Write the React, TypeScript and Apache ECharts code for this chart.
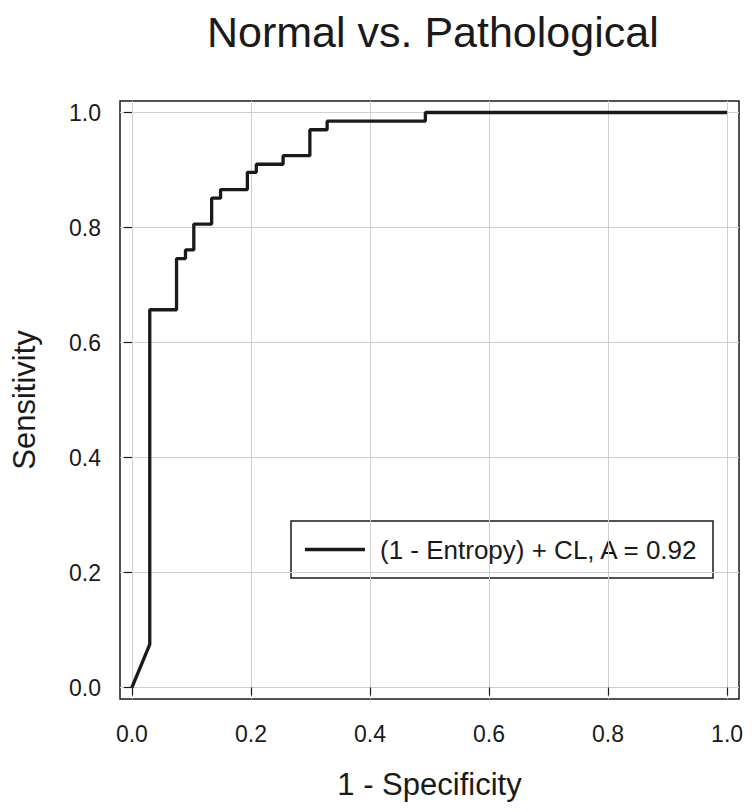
import React, { useEffect, useRef } from "react";
import * as echarts from "echarts";

const titleText = "Normal vs. Pathological";
const xAxisTitle = "1 - Specificity";
const yAxisTitle = "Sensitivity";
const seriesName = "(1 - Entropy) + CL, A = 0.92";
const tickValues = [0, 0.2, 0.4, 0.6, 0.8, 1.0];

// ROC curve vertices (1 - specificity, sensitivity)
const fpr = [0, 0.030, 0.030, 0.075, 0.075, 0.090, 0.090, 0.104, 0.104, 0.134, 0.134, 0.149, 0.149, 0.194, 0.194, 0.209, 0.209, 0.254, 0.254, 0.299, 0.299, 0.328, 0.328, 0.493, 0.493, 1.0];
const tpr = [0, 0.075, 0.657, 0.657, 0.746, 0.746, 0.761, 0.761, 0.806, 0.806, 0.851, 0.851, 0.866, 0.866, 0.896, 0.896, 0.910, 0.910, 0.925, 0.925, 0.970, 0.970, 0.985, 0.985, 1.0, 1.0];

const FONT = "'Liberation Sans', Arial, sans-serif";

export default function App() {
  const ref = useRef<HTMLDivElement>(null);
  useEffect(() => {
    if (!ref.current) return;
    const chart = echarts.init(ref.current, null, { renderer: "svg" });
    const data = fpr.map((x, i) => [x, tpr[i]]);
    const axisCommon = {
      type: "value",
      min: -0.02,
      max: 1.02,
      axisLine: { show: false },
      axisTick: {
        show: true,
        inside: false,
        length: 8,
        customValues: tickValues,
        lineStyle: { color: "#1a1a1a", width: 1.2 },
      },
      axisLabel: {
        customValues: tickValues,
        formatter: (v: number) => v.toFixed(1),
        color: "#1a1a1a",
        fontSize: 23,
        fontFamily: FONT,
      },
      splitLine: { show: true, lineStyle: { color: "#cfcfcf", width: 1 } },
      nameLocation: "middle",
      nameTextStyle: { color: "#1a1a1a", fontSize: 31, fontFamily: FONT },
    };
    chart.setOption({
      animation: false,
      backgroundColor: "#ffffff",
      title: {
        text: titleText,
        left: 202,
        top: 5,
        textStyle: { color: "#1a1a1a", fontSize: 43, fontWeight: "normal", fontFamily: FONT },
      },
      grid: {
        left: 120,
        right: 15,
        top: 101,
        bottom: 113,
        show: true,
        borderColor: "#1a1a1a",
        borderWidth: 1.5,
        backgroundColor: "transparent",
      },
      xAxis: {
        ...axisCommon,
        name: xAxisTitle,
        nameGap: 70,
        axisLabel: { ...axisCommon.axisLabel, margin: 23 },
      },
      yAxis: {
        ...axisCommon,
        name: yAxisTitle,
        nameGap: 80,
        axisLabel: { ...axisCommon.axisLabel, margin: 19 },
      },
      series: [
        {
          type: "line",
          name: seriesName,
          data,
          showSymbol: false,
          symbol: "none",
          lineStyle: { color: "#1a1a1a", width: 3.3 },
          z: 5,
        },
      ],
      graphic: [
        {
          type: "group",
          z: 100,
          children: [
            {
              type: "rect",
              shape: { x: 291, y: 521, width: 422, height: 57 },
              style: { fill: "#ffffff", stroke: "#1a1a1a", lineWidth: 1.5 },
            },
            {
              type: "line",
              shape: { x1: 305, y1: 549.5, x2: 365, y2: 549.5 },
              style: { stroke: "#1a1a1a", lineWidth: 3.3 },
            },
            {
              type: "text",
              x: 380,
              y: 550,
              style: {
                text: seriesName,
                fill: "#1a1a1a",
                fontSize: 26,
                fontFamily: FONT,
                verticalAlign: "middle",
                align: "left",
              },
            },
          ],
        },
      ],
    });
    return () => chart.dispose();
  }, []);
  return <div ref={ref} style={{ width: 754, height: 812, margin: -8 }} />;
}
